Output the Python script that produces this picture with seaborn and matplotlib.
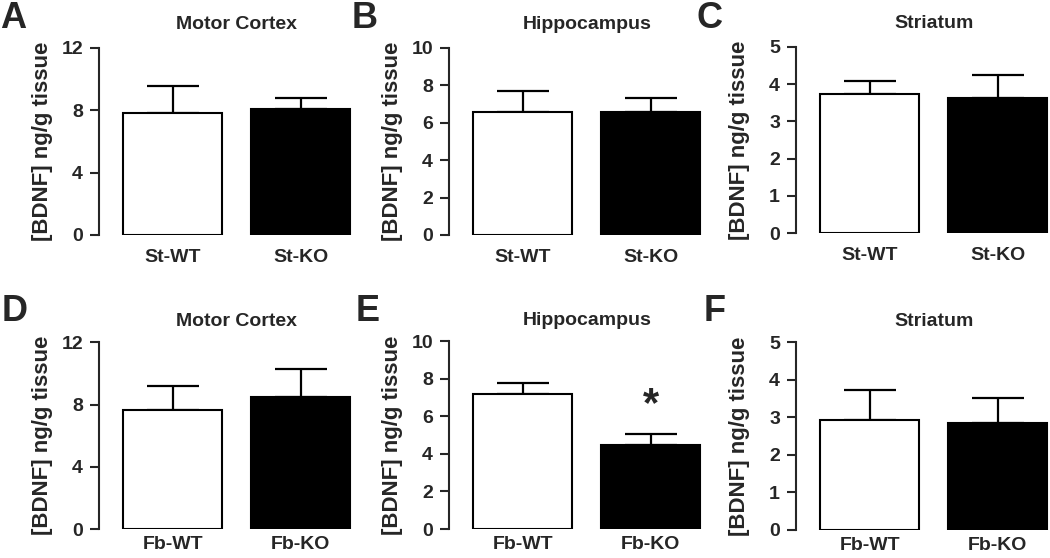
import matplotlib
matplotlib.use("Agg")
import matplotlib.pyplot as plt
import seaborn as sns
import pandas as pd

# ---- data ----
regions = ["Motor Cortex", "Hippocampus", "Striatum"]
panel_letters = ["A", "B", "C", "D", "E", "F"]
groups_st = ["St-WT", "St-KO"]
groups_fb = ["Fb-WT", "Fb-KO"]

st_means = [[7.83, 8.09], [6.59, 6.57], [3.73, 3.62]]
st_upper = [[9.56, 8.81], [7.70, 7.32], [4.09, 4.24]]
fb_means = [[7.65, 8.46], [7.18, 4.46], [2.94, 2.84]]
fb_upper = [[9.21, 10.28], [7.78, 5.08], [3.73, 3.53]]

ymax = [12, 10, 5]
yticks = [[0, 4, 8, 12], [0, 2, 4, 6, 8, 10], [0, 1, 2, 3, 4, 5]]
ylabel = "[BDNF] ng/g tissue"
significance = {(1, 1): "*"}  # (row, col)

# ---- style ----
sns.set_style("ticks")
plt.rcParams["font.family"] = ["Liberation Sans", "DejaVu Sans"]
plt.rcParams["font.weight"] = "bold"
plt.rcParams["axes.labelweight"] = "bold"

fig = plt.figure(figsize=(10.5, 5.58), dpi=100)
W, H = 1050, 558

# axes geometry in pixels: (y0 pixel, ytop pixel)
lefts = [99, 449, 796]
rows_px = [[(235, 48), (235, 48), (233.3, 46.7)],
           [(529, 342.4), (529, 341.4), (530, 342.4)]]
axw = 253
letter_pos = [[(0, 28), (352, 28), (697, 28)],
              [(2, 321), (356, 321), (704, 321)]]
xpad = [10, 5]

for r in range(2):
    groups = groups_st if r == 0 else groups_fb
    means_all = st_means if r == 0 else fb_means
    upper_all = st_upper if r == 0 else fb_upper
    for c in range(3):
        y0, yt = rows_px[r][c]
        ax = fig.add_axes([lefts[c] / W, 1 - y0 / H, axw / W, (y0 - yt) / H])
        means = means_all[c]
        ups = upper_all[c]
        df = pd.DataFrame({"group": groups, "value": means})
        ax.errorbar([0, 1], means,
                    yerr=[[0, 0], [u - m for u, m in zip(ups, means)]],
                    fmt="none", ecolor="black", elinewidth=1.6,
                    capsize=18.5, capthick=1.6, zorder=1)
        sns.barplot(data=df, x="group", y="value", hue="group",
                    palette=["white", "black"], edgecolor="black",
                    linewidth=1.5, width=0.77, legend=False, ax=ax, zorder=2)
        ax.set_xlim(-0.575, 1.40)
        ax.set_ylim(0, ymax[c])
        ax.set_yticks(yticks[c])
        ax.set_yticklabels([str(t) for t in yticks[c]], fontsize=14,
                           fontweight="bold")
        ax.set_xticks([0, 1])
        ax.set_xticklabels(groups, fontsize=14, fontweight="bold")
        ax.tick_params(axis="x", length=0, pad=xpad[r])
        ax.tick_params(axis="y", length=6.5, width=1.5, pad=5, direction="out")
        for s in ["top", "right", "bottom"]:
            ax.spines[s].set_visible(False)
        ax.spines["left"].set_linewidth(1.5)
        ax.set_xlabel("")
        ax.set_ylabel(ylabel, fontsize=16, fontweight="bold")
        ax.yaxis.set_label_coords(-0.183, 0.5)
        ty = 1.10 if r == 0 else 1.087
        ax.text(0.5, ty, regions[c], transform=ax.get_xaxis_transform(),
                ha="center", va="baseline", fontsize=14, fontweight="bold")
        if (r, c) in significance:
            ax.text(1, ups[1] + 0.45, significance[(r, c)], ha="center",
                    va="bottom", fontsize=30, fontweight="bold")
        lx, ly = letter_pos[r][c]
        fig.text(lx / W, 1 - ly / H, panel_letters[r * 3 + c],
                 ha="left", va="baseline", fontsize=26, fontweight="bold")

fig.savefig("out.png", dpi=100)
